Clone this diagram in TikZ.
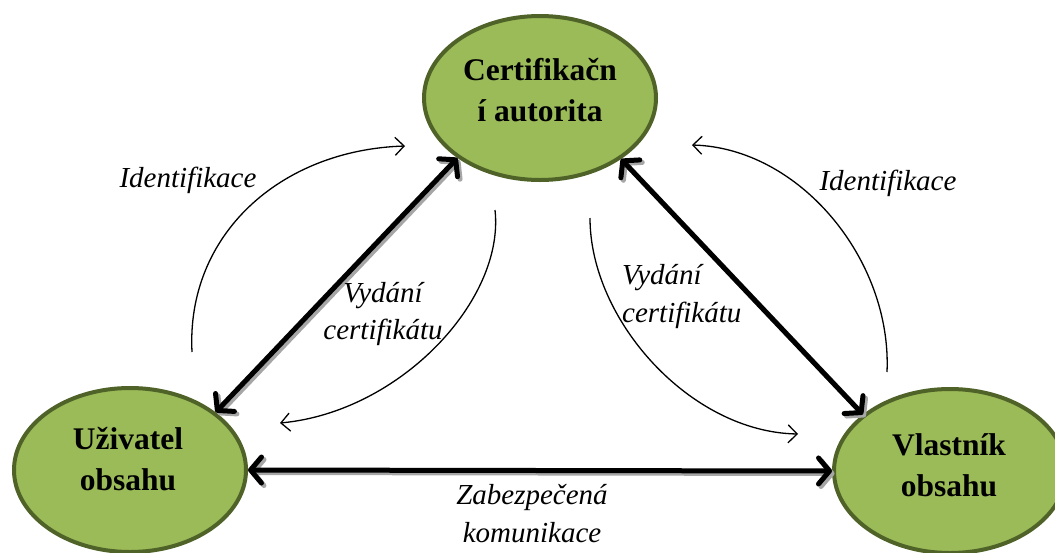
\documentclass[tikz,border=0pt]{standalone}
\usepackage{fontspec}
\setmainfont{Liberation Serif}
\usetikzlibrary{shapes.geometric,arrows.meta}
\definecolor{nodefill}{HTML}{9BBB59}
\definecolor{nodeline}{HTML}{4F6228}

\begin{document}
\begin{tikzpicture}[x=1pt,y=-1pt,
  party/.style={ellipse, draw=nodeline, fill=nodefill, line width=4pt,
    minimum width=232pt, minimum height=164pt, inner sep=0pt},
  partytext/.style={font=\bfseries\fontsize{31.5}{41.5}\selectfont,
    align=center, inner sep=0pt},
  link/.style={line width=5pt,
    {Straight Barb[length=11pt,width=26pt,round]}-{Straight Barb[length=11pt,width=26pt,round]}},
  linkshadow/.style={link, draw=black!35,
    transform canvas={xshift=2.5pt,yshift=-2.5pt}},
  flow/.style={line width=1.3pt, -{Straight Barb[length=9pt,width=18pt]}},
  caption/.style={font=\itshape\fontsize{29}{37.5}\selectfont, inner sep=0pt},
]
\useasboundingbox (0,0) rectangle (1055,552);

% the three parties
\node[party] (ca) at (540,98) {};
\node[party] (uo) at (130,470) {};
\node[party] (vo) at (950,471) {};

\node[partytext] (catext) at (540,90) {Certifikačn\\í autorita};
\node[partytext] (uotext) at (128,459) {Uživatel\\obsahu};
\node[partytext] (votext) at (949,465) {Vlastník\\obsahu};

% shadows of the thick two-way links
\draw[linkshadow] (ca.216) -- (uo.34);
\draw[linkshadow] (ca.323) -- (vo.147);
\draw[linkshadow] (uo.east) -- (vo.west);

% thick two-way links
\draw[link] (ca.216) -- (uo.34);
\draw[link] (ca.323) -- (vo.147);
\draw[link] (uo.east) -- (vo.west);

% thin curved flows
\coordinate (idL0) at (192,352);
\coordinate (idL1) at (405,146);
\draw[flow] (idL0) .. controls (186,235) and (280,150) .. (idL1);

\coordinate (vyL0) at (495,210);
\coordinate (vyL1) at (280,423);
\draw[flow] (vyL0) .. controls (505,300) and (400,412) .. (vyL1);

\coordinate (vyR0) at (590,218);
\coordinate (vyR1) at (798,434);
\draw[flow] (vyR0) .. controls (590,320) and (690,432) .. (vyR1);

\coordinate (idR0) at (887,372);
\coordinate (idR1) at (692,145);
\draw[flow] (idR0) .. controls (892,260) and (800,148) .. (idR1);

% captions
\node[caption, anchor=base] (idLtext) at (188,187) {Identifikace};
\node[caption, anchor=base] (idRtext) at (888,190) {Identifikace};
\node[caption, align=center] (vyLtext) at (383,314) {Vydání\\certifikátu};
\node[caption, align=left, anchor=west] (vyRtext) at (622,296.5) {Vydání\\certifikátu};
\node[caption, align=center] (comtext) at (532,513.5) {Zabezpečená\\komunikace};
\end{tikzpicture}
\end{document}
